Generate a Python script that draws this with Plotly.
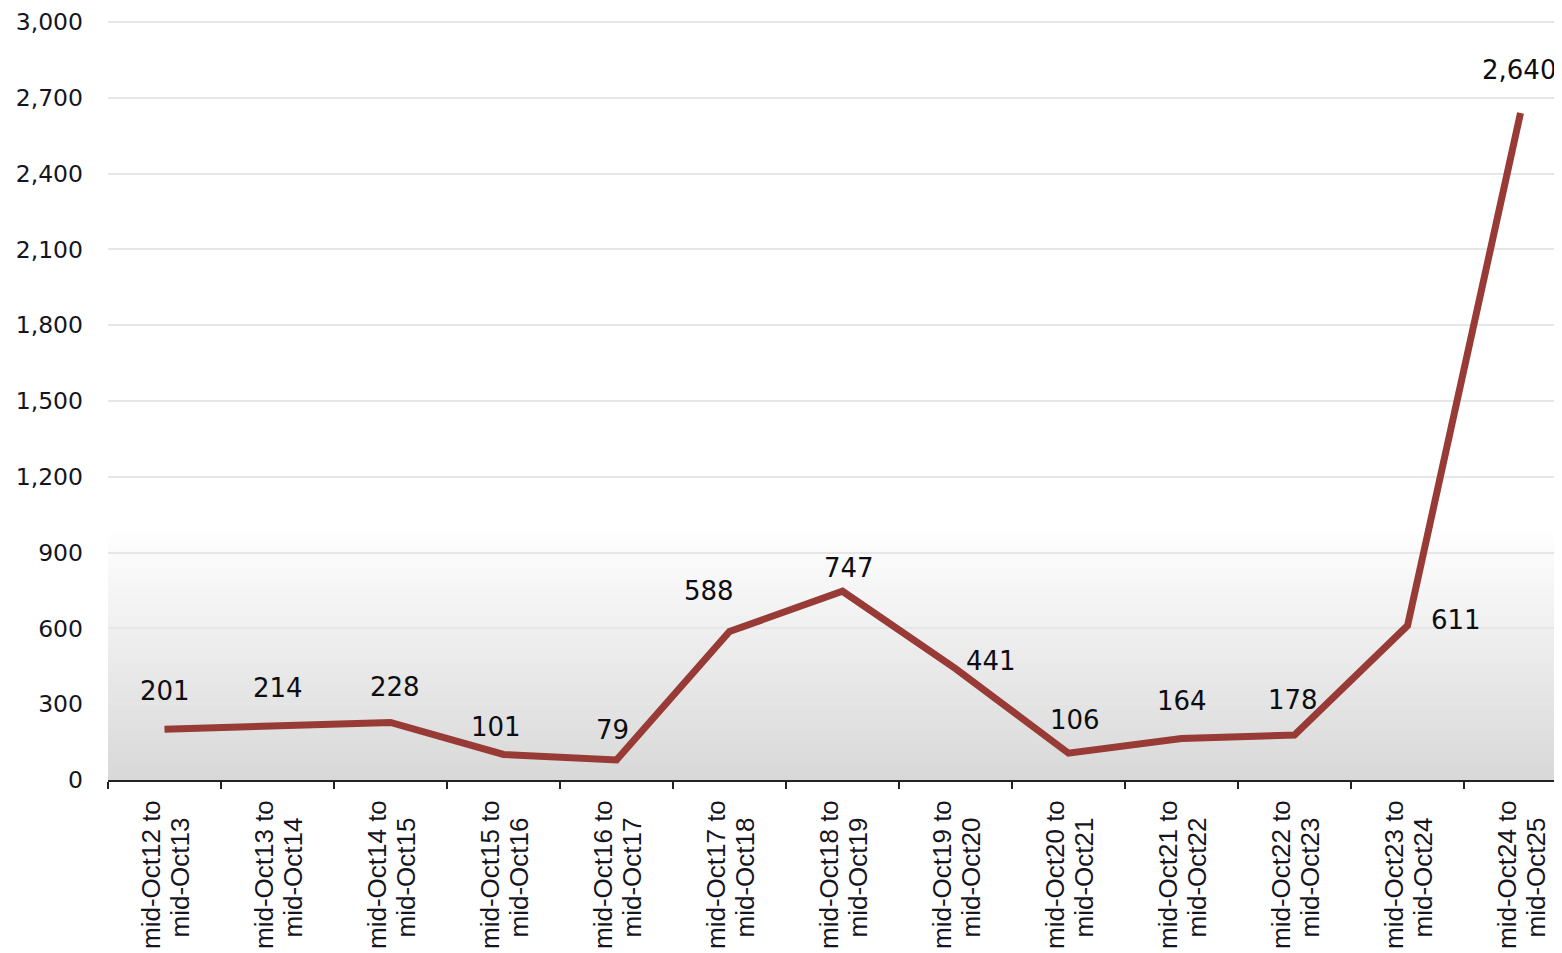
import plotly.graph_objects as go

# ---------------- data ----------------
periods_from = ["mid-Oct12", "mid-Oct13", "mid-Oct14", "mid-Oct15", "mid-Oct16", "mid-Oct17",
                "mid-Oct18", "mid-Oct19", "mid-Oct20", "mid-Oct21", "mid-Oct22", "mid-Oct23",
                "mid-Oct24"]
periods_to = ["mid-Oct13", "mid-Oct14", "mid-Oct15", "mid-Oct16", "mid-Oct17", "mid-Oct18",
              "mid-Oct19", "mid-Oct20", "mid-Oct21", "mid-Oct22", "mid-Oct23", "mid-Oct24",
              "mid-Oct25"]
categories = [f"{a} to {b}" for a, b in zip(periods_from, periods_to)]
values = [201, 214, 228, 101, 79, 588, 747, 441, 106, 164, 178, 611, 2640]
y_tick_values = [0, 300, 600, 900, 1200, 1500, 1800, 2100, 2400, 2700, 3000]

# ---------------- styling ----------------
LINE_COLOR = "#983a36"
TEXT_COLOR = "#15151f"
# pixel offsets (dx, dy) of each value label relative to its point
label_offsets = [(0, 38), (0, 38), (4, 35), (-8, 27), (-4, 30), (-21, 40), (6, 23),
                 (35, 8), (6, 33), (0, 38), (-2, 35), (48, 6), (-2, 43)]

fig = go.Figure()

fig.add_trace(go.Scatter(
    x=categories, y=values, mode="lines",
    line=dict(color=LINE_COLOR, width=7),
    hoverinfo="x+y", showlegend=False,
))

annotations = []
for cat, v, (dx, dy) in zip(categories, values, label_offsets):
    annotations.append(dict(
        x=cat, y=v, xref="x", yref="y", text=f"{v:,}", showarrow=False,
        xshift=dx, yshift=dy,
        font=dict(family="DejaVu Sans", size=26, color="#0d0d12"),
    ))

# rotated two-line category labels
for cat, a, b in zip(categories, periods_from, periods_to):
    annotations.append(dict(
        x=cat, y=0, xref="x", yref="paper", text=a + " to", showarrow=False,
        textangle=-90, xanchor="center", yanchor="bottom", xshift=-14, yshift=-171,
        font=dict(family="Liberation Sans", size=26, color=TEXT_COLOR),
    ))
    annotations.append(dict(
        x=cat, y=0, xref="x", yref="paper", text=b, showarrow=False,
        textangle=-90, xanchor="center", yanchor="top", xshift=15, yshift=-36,
        font=dict(family="Liberation Sans", size=26, color=TEXT_COLOR),
    ))

# gradient background in lower region (drawn below gridlines)
shapes = []
n_bands = 80
top_val = 1000.0
step = top_val / n_bands
for i in range(n_bands):
    f = (i + 0.5) / n_bands
    c = int(round(216 + (255 - 216) * f))
    shapes.append(dict(
        type="rect", xref="paper", yref="y", x0=0, x1=1,
        y0=i * step, y1=(i + 1) * step + step * 0.3,
        fillcolor=f"rgb({c},{c},{c})", line=dict(width=0), layer="below",
    ))

fig.update_layout(
    width=1562, height=953,
    margin=dict(l=100, r=0, t=8, b=181),
    paper_bgcolor="white", plot_bgcolor="white",
    annotations=annotations, shapes=shapes,
    xaxis=dict(
        type="category", range=[-0.5, 12.438],
        showline=True, linecolor="#222222", linewidth=2,
        ticks="outside", tickson="boundaries", ticklen=7, tickwidth=2, tickcolor="#222222",
        showticklabels=False, showgrid=False, zeroline=False,
    ),
    yaxis=dict(
        range=[0, 3008], tickvals=y_tick_values, tickformat=",",
        tickfont=dict(family="DejaVu Sans", size=23.5, color=TEXT_COLOR),
        ticklabelstandoff=24, ticklabeloverflow="allow",
        showline=False, zeroline=False, ticks="",
        showgrid=True, gridcolor="#e6e6e6", gridwidth=2,
    ),
)

fig.write_html("out.html")
